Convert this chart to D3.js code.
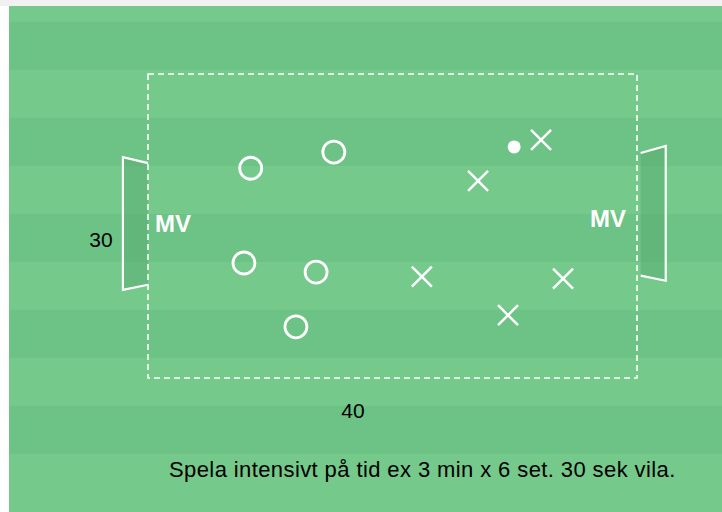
<!DOCTYPE html>
<html>
<head>
<meta charset="utf-8">
<script src="https://cdn.jsdelivr.net/npm/d3@7"></script>
<style>
  body { margin: 0; background: #ffffff; }
</style>
</head>
<body>
<div id="chart-area"></div>
<script>
// field units: 40 x 30 (the dashed playing area)
const teamO = [[8.4, 9.3], [15.2, 7.7], [7.85, 18.65], [13.75, 19.55], [12.1, 24.95]];
const teamX = [[32.15, 6.5], [27.0, 10.55], [22.4, 20.0], [33.95, 20.2], [29.45, 23.8]];
const ball = [29.95, 7.2];
const leftGoal = [[0, 8.8], [-2.05, 8.2], [-2.05, 21.3], [0, 20.8]];
const rightGoal = [[40.3, 7.8], [42.35, 7.1], [42.35, 20.4], [40.3, 19.9]];
const darkStripes = [0, 1, 2, 3, 4];
const labels = { width: "40", height: "30", keeper: "MV" };
const note = "Spela intensivt på tid ex 3 min x 6 set. 30 sek vila.";

const svgWidth = 722, svgHeight = 512;
const font = "Liberation Sans, Arial, Helvetica, sans-serif";
const canvas = d3.select("#chart-area")
  .append("svg")
    .attr("width", svgWidth)
    .attr("height", svgHeight)
    .style("display", "block");

const x = d3.scaleLinear().domain([0, 40]).range([148, 637]);
const y = d3.scaleLinear().domain([0, 30]).range([74, 378]);

// page edge
canvas.append("rect")
  .attr("width", svgWidth).attr("height", 6)
  .attr("fill", "#f1f1f1");

// grass stripes
const field = canvas.append("g");
field.append("rect")
  .attr("x", 9).attr("y", 6)
  .attr("width", svgWidth - 9).attr("height", svgHeight - 6)
  .attr("fill", "#74c98b");
field.selectAll("rect.stripe")
  .data(darkStripes)
  .enter().append("rect")
    .attr("class", "stripe")
    .attr("x", 9)
    .attr("y", d => 22 + d * 96)
    .attr("width", svgWidth - 9)
    .attr("height", 48)
    .attr("fill", "#6dc385");

// goals
const goalLine = d3.line().x(d => x(d[0])).y(d => y(d[1]));
[leftGoal, rightGoal].forEach(g => {
  canvas.append("path")
    .attr("d", goalLine(g) + "Z")
    .attr("fill", "#4e9e63")
    .attr("fill-opacity", 0.35);
  canvas.append("path")
    .attr("d", goalLine(g))
    .attr("fill", "none")
    .attr("stroke", "#ffffff")
    .attr("stroke-width", 2.2);
});

// dashed playing area
canvas.append("rect")
  .attr("x", x(0)).attr("y", y(0))
  .attr("width", x(40) - x(0))
  .attr("height", y(30) - y(0))
  .attr("fill", "none")
  .attr("stroke", "#ffffff")
  .attr("stroke-width", 1.6)
  .attr("stroke-dasharray", "6,4");

// players O
canvas.selectAll("circle.o")
  .data(teamO)
  .enter().append("circle")
    .attr("class", "o")
    .attr("cx", d => x(d[0]))
    .attr("cy", d => y(d[1]))
    .attr("r", 11)
    .attr("fill", "none")
    .attr("stroke", "#ffffff")
    .attr("stroke-width", 2.8);

// players X
const s = 10;
canvas.selectAll("path.x")
  .data(teamX)
  .enter().append("path")
    .attr("class", "x")
    .attr("d", d => {
      const cx = x(d[0]), cy = y(d[1]);
      return `M${cx - s},${cy - s}L${cx + s},${cy + s}M${cx - s},${cy + s}L${cx + s},${cy - s}`;
    })
    .attr("stroke", "#ffffff")
    .attr("stroke-width", 2.5);

// ball
canvas.append("circle")
  .attr("cx", x(ball[0])).attr("cy", y(ball[1]))
  .attr("r", 6.5)
  .attr("fill", "#ffffff");

// texts
canvas.append("text")
  .text(labels.keeper)
  .attr("x", 155).attr("y", 232)
  .attr("font-family", font)
  .attr("font-size", 24).attr("font-weight", 700)
  .attr("fill", "#ffffff");
canvas.append("text")
  .text(labels.keeper)
  .attr("x", 626).attr("y", 227)
  .attr("text-anchor", "end")
  .attr("font-family", font)
  .attr("font-size", 24).attr("font-weight", 700)
  .attr("fill", "#ffffff");
canvas.append("text")
  .text(labels.height)
  .attr("x", 101).attr("y", 247)
  .attr("text-anchor", "middle")
  .attr("font-family", font)
  .attr("font-size", 21)
  .attr("fill", "#000");
canvas.append("text")
  .text(labels.width)
  .attr("x", 353).attr("y", 418)
  .attr("text-anchor", "middle")
  .attr("font-family", font)
  .attr("font-size", 21)
  .attr("fill", "#000");
canvas.append("text")
  .text(note)
  .attr("x", 169).attr("y", 477)
  .attr("font-family", font)
  .attr("font-size", 22)
  .attr("letter-spacing", 0.4)
  .attr("fill", "#000");
</script>
</body>
</html>
